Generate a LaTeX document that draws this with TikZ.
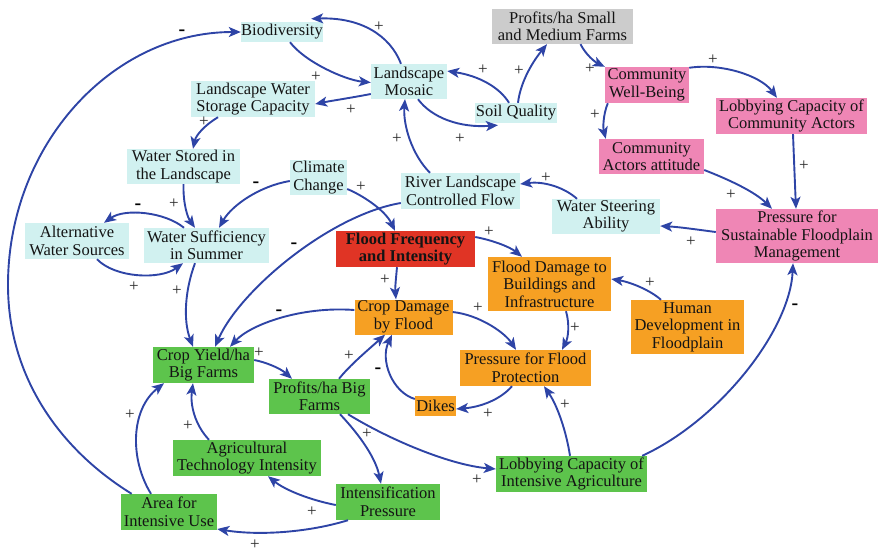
\documentclass[tikz,border=0pt]{standalone}
\usepackage{fontspec}
\setmainfont{Liberation Serif}
\newfontfamily\labelfont{Liberation Serif}
\usetikzlibrary{arrows.meta}

\definecolor{cyanfill}{RGB}{209,241,240}
\definecolor{pinkfill}{RGB}{239,134,181}
\definecolor{orangefill}{RGB}{246,160,35}
\definecolor{greenfill}{RGB}{93,196,76}
\definecolor{redfill}{RGB}{224,52,37}
\definecolor{grayfill}{RGB}{204,204,204}
\definecolor{linkblue}{RGB}{46,68,166}
\definecolor{inkcol}{RGB}{20,20,20}
\definecolor{signcol}{RGB}{40,40,40}

\tikzset{
  box/.style={inner sep=0pt, align=center, text=inkcol,
    font=\labelfont\fontsize{16.5}{17.5}\selectfont},
  cyanbox/.style={box, fill=cyanfill},
  pinkbox/.style={box, fill=pinkfill},
  orangebox/.style={box, fill=orangefill},
  greenbox/.style={box, fill=greenfill},
  redbox/.style={box, fill=redfill, font=\labelfont\fontsize{16.5}{17.5}\selectfont\bfseries},
  graybox/.style={box, fill=grayfill},
  link/.style={draw=linkblue, line width=1.9pt,
    -{Stealth[length=12pt,width=10pt,inset=3pt]}},
  plussign/.style={inner sep=0pt, text=signcol, font=\labelfont\fontsize{17}{17}\selectfont},
  minussign/.style={inner sep=0pt, text=black, font=\labelfont\fontsize{20}{20}\selectfont\bfseries},
}

\begin{document}
\begin{tikzpicture}[x=1pt,y=-1pt]
\useasboundingbox (0,0) rectangle (878,552);

% ---- variables ----
\node[cyanbox, minimum width=82pt, minimum height=20pt] (bio) at (282,32) {Biodiversity};
\node[cyanbox, minimum width=76pt, minimum height=35pt] (mosaic) at (409,81.5) {Landscape\\Mosaic};
\node[cyanbox, minimum width=124pt, minimum height=36pt] (lwsc) at (253,99) {Landscape Water\\Storage Capacity};
\node[cyanbox, minimum width=82pt, minimum height=20pt] (soil) at (516,113) {Soil Quality};
\node[graybox, minimum width=141pt, minimum height=35pt] (profsmall) at (562.5,26.5) {Profits/ha Small\\and Medium Farms};
\node[pinkbox, minimum width=84pt, minimum height=36pt] (cwb) at (647,85) {Community\\Well-Being};
\node[pinkbox, minimum width=151pt, minimum height=36pt] (lcca) at (791.5,116) {Lobbying Capacity of\\Community Actors};
\node[pinkbox, minimum width=105pt, minimum height=35pt] (caa) at (651.5,156.5) {Community\\Actors attitude};
\node[cyanbox, minimum width=113pt, minimum height=35pt] (wsl) at (183.5,166.5) {Water Stored in\\the Landscape};
\node[cyanbox, minimum width=57pt, minimum height=35pt] (cc) at (318.5,177.5) {Climate\\Change};
\node[cyanbox, minimum width=119pt, minimum height=36pt] (rlcf) at (460.5,191) {River Landscape\\Controlled Flow};
\node[cyanbox, minimum width=108pt, minimum height=35pt] (wsa) at (606,216.5) {Water Steering\\Ability};
\node[pinkbox, minimum width=162pt, minimum height=54pt] (psfm) at (797,236) {Pressure for\\Sustainable Floodplain\\Management};
\node[cyanbox, minimum width=104pt, minimum height=36pt] (aws) at (77,241) {Alternative\\Water Sources};
\node[cyanbox, minimum width=125pt, minimum height=35pt] (wss) at (206.5,245.5) {Water Sufficiency\\in Summer};
\node[redbox, minimum width=139pt, minimum height=36pt] (ffi) at (405.5,249) {Flood Frequency\\and Intensity};
\node[orangebox, minimum width=123pt, minimum height=54pt] (fdbi) at (549.5,284) {Flood Damage to\\Buildings and\\Infrastructure};
\node[orangebox, minimum width=113pt, minimum height=54pt] (hdf) at (687.5,327) {Human\\Development in\\Floodplain};
\node[orangebox, minimum width=98pt, minimum height=35pt] (cdf) at (403.5,317) {Crop Damage\\by Flood};
\node[greenbox, minimum width=101pt, minimum height=36pt] (cyb) at (203.5,365) {Crop Yield/ha\\Big Farms};
\node[greenbox, minimum width=101pt, minimum height=35pt] (pbf) at (319.5,396.5) {Profits/ha Big\\Farms};
\node[orangebox, minimum width=131pt, minimum height=36pt] (pfp) at (525.5,368) {Pressure for Flood\\Protection};
\node[orangebox, minimum width=41pt, minimum height=20pt] (dikes) at (435.5,406) {Dikes};
\node[greenbox, minimum width=148pt, minimum height=36pt] (ati) at (247,458) {Agricultural\\Technology Intensity};
\node[greenbox, minimum width=151pt, minimum height=36pt] (lcia) at (571.5,474) {Lobbying Capacity of\\Intensive Agriculture};
\node[greenbox, minimum width=104pt, minimum height=36pt] (ip) at (388,502) {Intensification\\Pressure};
\node[greenbox, minimum width=96pt, minimum height=36pt] (aiu) at (169,512) {Area for\\Intensive Use};

% ---- causal links ----
\coordinate (westmost) at (8,285);
\draw[link] (aiu.154) .. controls (59,449) and (8,376) .. (westmost)
  .. controls (8,145) and (112,32) .. (bio.west);
\draw[link] ([xshift=8pt]bio.south) .. controls (305,62) and (345,80) .. ([yshift=-1pt]mosaic.west);
\draw[link] ([xshift=-8pt]mosaic.north) .. controls (390,35) and (360,17) .. ([xshift=-12pt,yshift=3pt]bio.north east);
\draw[link] ([yshift=-12.5pt]mosaic.west) .. controls (350,98) and (330,101) .. ([yshift=-5pt]lwsc.east);
\draw[link] ([xshift=9pt]mosaic.south) .. controls (432,118) and (460,128) .. ([xshift=-18pt,yshift=-2pt]soil.south);
\draw[link] ([xshift=-7pt]soil.north) .. controls (500,88) and (480,76) .. ([yshift=10.5pt]mosaic.east);
\draw[link] ([xshift=2pt]soil.north) .. controls (520,85) and (530,65) .. ([xshift=-15.5pt]profsmall.south);
\draw[link] ([xshift=18pt]profsmall.south) .. controls (586,55) and (595,62) .. (cwb.north west);
\draw[link] ([yshift=-1pt]cwb.north east) .. controls (720,63) and (760,75) .. ([xshift=-14.5pt]lcca.north);
\draw[link] ([xshift=3pt]cwb.south west) .. controls (603,115) and (603,128) .. ([xshift=7pt]caa.north west);
\draw[link] ([xshift=1.5pt]lcca.south) .. controls (794,160) and (795,185) .. ([xshift=-1pt]psfm.north);
\draw[link] ([yshift=-13.5pt]caa.east) .. controls (730,180) and (755,192) .. ([xshift=-25pt]psfm.north);
\draw[link] ([yshift=4pt]psfm.west) .. controls (700,230) and (680,227) .. ([yshift=-9.5pt]wsa.east);
\draw[link] ([xshift=-29pt]wsa.north) .. controls (565,188) and (545,181) .. ([yshift=7pt]rlcf.east);
\draw[link] ([xshift=-30.5pt]rlcf.north) .. controls (412,155) and (403,125) .. ([xshift=-4pt]mosaic.south);
\draw[link] ([yshift=-11.5pt]cc.east) .. controls (362,195) and (385,210) .. ([xshift=-10.5pt]ffi.north);
\draw[link] ([yshift=-3.5pt]cc.west) .. controls (260,186) and (232,205) .. ([xshift=12.5pt]wss.north);
\draw[link] ([yshift=-12pt]rlcf.west) .. controls (330,215) and (240,290) .. ([xshift=11.5pt]cyb.north);
\draw[link] (wsl.south) .. controls (183,205) and (188,218) .. ([xshift=-11.5pt]wss.north);
\draw[link] ([xshift=-22.5pt]wss.north) .. controls (165,212) and (125,208) .. ([xshift=27pt]aws.north);
\draw[link] ([xshift=20pt]aws.south) .. controls (115,278) and (160,280) .. ([xshift=-23.5pt]wss.south);
\draw[link] ([xshift=-11.5pt]wss.south) .. controls (185,290) and (183,320) .. ([xshift=-10.5pt]cyb.north);
\draw[link] ([xshift=-35pt]lwsc.south) .. controls (205,125) and (196,135) .. ([xshift=9.5pt]wsl.north);
\draw[link] ([xshift=-8.5pt]ffi.south) .. controls (396,278) and (395,288) .. ([xshift=-7.5pt]cdf.north);
\draw[link] ([yshift=12pt]ffi.east) .. controls (492,240) and (510,247) .. ([xshift=-27.5pt]fdbi.north);
\draw[link] ([yshift=7pt]cdf.west) .. controls (300,306) and (250,325) .. ([xshift=26.5pt]cyb.north);
\draw[link] ([yshift=5pt]cdf.east) .. controls (480,315) and (505,333) .. ([xshift=-9.5pt]pfp.north);
\draw[link] ([xshift=16.5pt]fdbi.south) .. controls (570,325) and (568,338) .. ([xshift=36.5pt]pfp.north);
\draw[link] ([xshift=-26.5pt]hdf.north) .. controls (650,290) and (630,282) .. ([yshift=5pt]fdbi.east);
\draw[link] ([yshift=5pt]cyb.east) .. controls (265,362) and (280,368) .. ([xshift=-27.5pt]pbf.north);
\draw[link] ([xshift=19.5pt]pbf.north) .. controls (350,365) and (368,350) .. ([xshift=-18.5pt]cdf.south);
\draw[link] ([yshift=7pt]dikes.west) .. controls (392,392) and (380,360) .. ([xshift=-11.5pt]cdf.south);
\draw[link] ([xshift=-13.5pt]pfp.south) .. controls (500,400) and (480,407) .. ([yshift=-3pt]dikes.east);
\draw[link] ([xshift=20.5pt]pbf.south) .. controls (355,430) and (375,455) .. ([xshift=-7pt]ip.north);
\draw[link] ([xshift=28.5pt]pbf.south) .. controls (390,440) and (450,465) .. ([yshift=5pt]lcia.west);
\draw[link] ([xshift=-1.5pt]lcia.north) .. controls (566,430) and (557,405) .. ([xshift=18.5pt]pfp.south);
\draw[link] ([xshift=-5pt]lcia.north east) .. controls (720,420) and (790,330) .. ([xshift=-4pt]psfm.south);
\draw[link] ([yshift=-3pt]ip.west) .. controls (310,500) and (285,490) .. ([xshift=21pt]ati.south);
\draw[link] ([xshift=-40pt]ip.south) .. controls (310,532) and (260,536) .. ([yshift=-17pt]aiu.east);
\draw[link] ([xshift=-38pt]ati.north) .. controls (195,425) and (190,405) .. ([xshift=-10.5pt]cyb.south);
\draw[link] ([xshift=-18pt]aiu.north) .. controls (130,460) and (130,410) .. ([xshift=-39.5pt]cyb.south);

% ---- polarity signs ----
\node[minussign] (s1) at (182,33) {-};
\node[plussign] (s2) at (316,77) {+};
\node[plussign] (s3) at (379,27) {+};
\node[plussign] (s4) at (351,110) {+};
\node[plussign] (s5) at (460,139) {+};
\node[plussign] (s6) at (483,70) {+};
\node[plussign] (s7) at (519,71) {+};
\node[plussign] (s8) at (590,69) {+};
\node[plussign] (s9) at (713,60) {+};
\node[plussign] (s10) at (595,115) {+};
\node[plussign] (s11) at (804,166) {+};
\node[plussign] (s12) at (731,195) {+};
\node[plussign] (s13) at (691,242) {+};
\node[plussign] (s14) at (546,178) {+};
\node[plussign] (s15) at (397,139) {+};
\node[plussign] (s16) at (361,187) {+};
\node[minussign] (s17) at (256,185) {-};
\node[minussign] (s18) at (294,246) {-};
\node[plussign] (s19) at (174,204) {+};
\node[minussign] (s20) at (138,207) {-};
\node[plussign] (s21) at (134,287) {+};
\node[plussign] (s22) at (177,291) {+};
\node[plussign] (s23) at (204,122) {+};
\node[plussign] (s24) at (385,280) {+};
\node[plussign] (s25) at (489,232) {+};
\node[minussign] (s26) at (279,313) {-};
\node[plussign] (s27) at (478,308) {+};
\node[plussign] (s28) at (575,328) {+};
\node[plussign] (s29) at (650,283) {+};
\node[plussign] (s30) at (259,353) {+};
\node[plussign] (s31) at (349,356) {+};
\node[minussign] (s32) at (378,371) {-};
\node[plussign] (s33) at (488,414) {+};
\node[plussign] (s34) at (367,434) {+};
\node[plussign] (s35) at (477,480) {+};
\node[plussign] (s36) at (565,405) {+};
\node[minussign] (s37) at (795,307) {-};
\node[plussign] (s38) at (312,512) {+};
\node[plussign] (s39) at (255,545) {+};
\node[plussign] (s40) at (188,426) {+};
\node[plussign] (s41) at (130,415) {+};
\end{tikzpicture}
\end{document}
